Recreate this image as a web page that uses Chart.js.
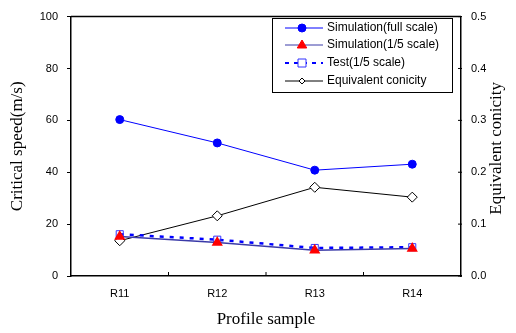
<!DOCTYPE html>
<html>
<head>
<meta charset="utf-8">
<script src="https://cdn.jsdelivr.net/npm/chart.js@4/dist/chart.umd.min.js"></script>
<style>
html,body{margin:0;padding:0;background:#fff;}
#wrap{width:516px;height:333px;position:relative;}
</style>
</head>
<body>
<div id="wrap"><canvas id="c" width="516" height="333"></canvas></div>
<script>
const categories = ['R11', 'R12', 'R13', 'R14'];
const simFull = [60.3, 51.3, 40.8, 43.1];
const simFifth = [15.2, 12.9, 9.9, 10.6];
const testFifth = [16.1, 14.0, 10.8, 11.1];
const conicity = [0.068, 0.116, 0.171, 0.152];
const speedTicks = [0, 20, 40, 60, 80, 100];
const conicityTicks = [0, 0.1, 0.2, 0.3, 0.4, 0.5];
const legendLabels = ['Simulation(full scale)', 'Simulation(1/5 scale)', 'Test(1/5 scale)', 'Equivalent conicity'];
const rightTitle = 'Equivalent conicity';

const tickFont = {family: '"Liberation Sans", Arial, sans-serif', size: 11};
const titleFont = {family: '"Liberation Serif", "Times New Roman", serif', size: 17};

function drawMarker(ctx, style, x, y, r, fill, stroke, lw) {
  ctx.save();
  ctx.beginPath();
  if (style === 'circle') {
    ctx.arc(x, y, r, 0, Math.PI * 2);
  } else if (style === 'triangle') {
    ctx.moveTo(x, y - r);
    ctx.lineTo(x + r * 0.95, y + r * 0.6);
    ctx.lineTo(x - r * 0.95, y + r * 0.6);
    ctx.closePath();
  } else if (style === 'rect') {
    ctx.rect(x - r, y - r, 2 * r, 2 * r);
  } else if (style === 'rectRot') {
    ctx.moveTo(x, y - r); ctx.lineTo(x + r, y); ctx.lineTo(x, y + r); ctx.lineTo(x - r, y); ctx.closePath();
  }
  if (fill) { ctx.fillStyle = fill; ctx.fill(); }
  if (stroke) { ctx.strokeStyle = stroke; ctx.lineWidth = lw; ctx.stroke(); }
  ctx.restore();
}

const framePlugin = {
  id: 'frame',
  afterDraw(chart) {
    const ctx = chart.ctx;
    const a = chart.chartArea;
    ctx.save();
    ctx.strokeStyle = '#000';
    ctx.lineWidth = 1.5;
    ctx.beginPath();
    ctx.moveTo(a.left, a.top); ctx.lineTo(a.right, a.top);
    ctx.stroke();
    // x-axis inward ticks at category boundaries
    ctx.lineWidth = 1;
    const xs = chart.scales.x;
    for (let i = 1; i < categories.length; i++) {
      const px = (xs.getPixelForValue(i - 1) + xs.getPixelForValue(i)) / 2;
      ctx.beginPath(); ctx.moveTo(px, a.bottom); ctx.lineTo(px, a.bottom - 4); ctx.stroke();
    }
    // right axis ticks
    const ys = chart.scales.y2;
    conicityTicks.forEach(v => {
      const py = ys.getPixelForValue(v);
      ctx.beginPath(); ctx.moveTo(a.right - 3, py); ctx.lineTo(a.right + 1, py); ctx.stroke();
    });
    // right axis title, reading bottom-to-top
    ctx.save();
    ctx.translate(497, (a.top + a.bottom) / 2 + 2);
    ctx.rotate(-Math.PI / 2);
    ctx.font = '17px "Liberation Serif", "Times New Roman", serif';
    ctx.fillStyle = '#000';
    ctx.textAlign = 'center';
    ctx.textBaseline = 'middle';
    ctx.fillText(rightTitle, 0, 0);
    ctx.restore();
    // legend
    const lx = 272, ly = 18, lw = 180, lh = 74;
    ctx.fillStyle = '#fff';
    ctx.fillRect(lx, ly, lw, lh);
    ctx.strokeStyle = '#000';
    ctx.lineWidth = 1;
    ctx.strokeRect(lx + 0.5, ly + 0.5, lw, lh);
    const rows = [28, 45, 63, 81];
    const specs = [
      {color: '#0000ff', dash: [], width: 1, marker: 'circle', r: 4, fill: '#0000ff', stroke: '#0000ff'},
      {color: '#3a3aa8', dash: [], width: 1, marker: 'triangle', r: 5, fill: '#ff0000', stroke: '#ff0000'},
      {color: '#0000ff', dash: [4, 5], width: 2, marker: 'rect', r: 4, fill: '#fff', stroke: '#3333ff'},
      {color: '#000000', dash: [], width: 1, marker: 'rectRot', r: 3, fill: '#fff', stroke: '#000'}
    ];
    ctx.font = '12px "Liberation Sans", Arial, sans-serif';
    ctx.textBaseline = 'middle';
    ctx.textAlign = 'left';
    rows.forEach((y, i) => {
      const s = specs[i];
      ctx.save();
      ctx.strokeStyle = s.color; ctx.lineWidth = s.width; ctx.setLineDash(s.dash);
      ctx.beginPath(); ctx.moveTo(285, y); ctx.lineTo(323, y); ctx.stroke();
      ctx.restore();
      drawMarker(ctx, s.marker, 302, y, s.r, s.fill, s.stroke, 1);
      ctx.fillStyle = '#000';
      ctx.fillText(legendLabels[i], 327, y);
    });
    ctx.restore();
  }
};

new Chart(document.getElementById('c'), {
  type: 'line',
  data: {
    labels: categories,
    datasets: [
      {label: legendLabels[0], data: simFull, yAxisID: 'y', order: 1,
       borderColor: '#0000ff', borderWidth: 1, pointStyle: 'circle', pointRadius: 4,
       pointBackgroundColor: '#0000ff', pointBorderColor: '#0000ff', tension: 0},
      {label: legendLabels[1], data: simFifth, yAxisID: 'y', order: 0,
       borderColor: '#3a3aa8', borderWidth: 1.5, pointStyle: 'triangle', pointRadius: 5,
       pointBackgroundColor: '#ff0000', pointBorderColor: '#ff0000', tension: 0},
      {label: legendLabels[2], data: testFifth, yAxisID: 'y', order: 3,
       borderColor: '#0000ff', borderWidth: 2.5, borderDash: [4, 6], pointStyle: 'rect', pointRadius: 5,
       pointBackgroundColor: 'rgba(255,255,255,0)', pointBorderColor: '#3333ff', pointBorderWidth: 1, tension: 0},
      {label: legendLabels[3], data: conicity, yAxisID: 'y2', order: 4,
       borderColor: '#000000', borderWidth: 1, pointStyle: 'rectRot', pointRadius: 5,
       pointBackgroundColor: '#ffffff', pointBorderColor: '#000000', pointBorderWidth: 1, tension: 0}
    ]
  },
  options: {
    responsive: false,
    animation: false,
    layout: {padding: {top: 11, left: 0, right: 0, bottom: 0}},
    plugins: {legend: {display: false}, tooltip: {enabled: false}},
    scales: {
      x: {
        type: 'category', offset: true,
        grid: {display: false, drawTicks: false},
        border: {display: true, color: '#000', width: 1.5},
        ticks: {color: '#000', font: tickFont, padding: 11, maxRotation: 0},
        title: {display: true, text: 'Profile sample', color: '#000', font: titleFont, padding: {top: 4, bottom: 3}},
        afterFit(s) { s.height = 57; }
      },
      y: {
        position: 'left', min: 0, max: 100,
        afterBuildTicks(s) { s.ticks = speedTicks.map(v => ({value: v})); },
        grid: {drawOnChartArea: false, drawTicks: true, tickLength: 4, color: '#000'},
        border: {display: true, color: '#000', width: 1.5},
        ticks: {color: '#000', font: tickFont, padding: 9},
        title: {display: true, text: 'Critical speed(m/s)', color: '#000', font: titleFont, padding: {top: 7, bottom: 0}},
        afterFit(s) { s.width = 71; }
      },
      y2: {
        position: 'right', min: 0, max: 0.5,
        afterBuildTicks(s) { s.ticks = conicityTicks.map(v => ({value: v})); },
        grid: {display: false, drawTicks: false},
        border: {display: true, color: '#000', width: 1.5},
        ticks: {color: '#000', font: tickFont, padding: 10, callback: v => Number(v).toFixed(1)},
        title: {display: false},
        afterFit(s) { s.width = 55; }
      }
    }
  },
  plugins: [framePlugin]
});
</script>
</body>
</html>
